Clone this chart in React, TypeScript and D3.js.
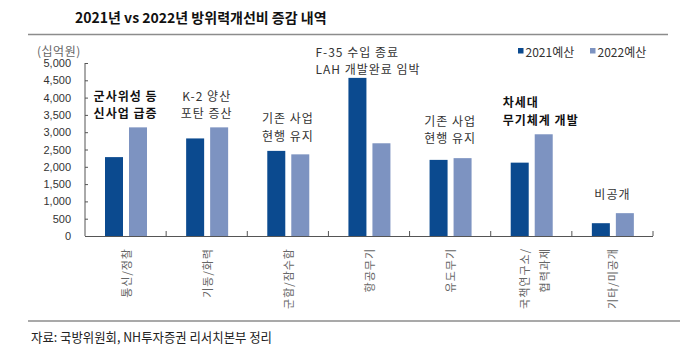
import React, {useEffect, useRef} from 'react';
import * as d3 from 'd3';

const categories = ['통신/정찰', '기동/화력', '군함/잠수함', '항공무기', '유도무기', '국책연구소/\n협력과제', '기타/미공개'];
const seriesNames = ['2021예산', '2022예산'];
const values2021 = [2280, 2820, 2460, 4570, 2200, 2120, 370];
const values2022 = [3140, 3140, 2360, 2680, 2250, 2940, 660];
const yTicks = [0, 500, 1000, 1500, 2000, 2500, 3000, 3500, 4000, 4500, 5000];

// annotations: category index, text lines, bold, y of first line (data units)
const notes = [
    {cat: 0, lines: ['군사위성 등', '신사업 급증'], bold: true, y: 4075},
    {cat: 1, lines: ['K-2 양산', '포탄 증산'], bold: false, y: 4075},
    {cat: 2, lines: ['기존 사업', '현행 유지'], bold: false, y: 3420},
    {cat: 3, lines: ['F-35 수입 종료', 'LAH 개발완료 임박'], bold: false, y: 5345},
    {cat: 4, lines: ['기존 사업', '현행 유지'], bold: false, y: 3350},
    {cat: 5, lines: ['차세대', '무기체계 개발'], bold: true, y: 3880},
    {cat: 6, lines: ['비공개'], bold: false, y: 1235},
];

const colors = ['#0b4a8f', '#7d93c1'];
const korFont = '"Noto Sans CJK KR", "Noto Sans", sans-serif';
const numFont = '"Liberation Sans", Arial, sans-serif';

export default function App() {
    const svgRef = useRef(null);

    useEffect(() => {
        const W = 680, H = 351;
        const left = 85, right = 653, top = 63, bottom = 236;

        const svg = d3.select(svgRef.current);
        svg.selectAll('*').remove();

        const x0 = d3.scaleBand().domain(categories).range([left, right]).padding(0);
        const x1 = d3.scaleBand().domain(seriesNames).range([20, 62]).paddingInner(0.25);
        const y = d3.scaleLinear().domain([0, 5000]).range([bottom, top]);

        // title
        svg.append('text')
            .attr('x', 75).attr('y', 17)
            .attr('dominant-baseline', 'central')
            .attr('font-family', korFont)
            .attr('font-size', '14px')
            .attr('font-weight', 'bold')
            .attr('fill', '#111')
            .text('2021년 vs 2022년 방위력개선비 증감 내역');

        svg.append('line')
            .attr('x1', 28).attr('x2', 668).attr('y1', 34.5).attr('y2', 34.5)
            .attr('stroke', '#8c8c8c').attr('stroke-width', 1.5);

        // unit
        svg.append('text')
            .attr('x', 37).attr('y', 50)
            .attr('dominant-baseline', 'central')
            .attr('font-family', korFont)
            .attr('font-size', '12px')
            .attr('letter-spacing', '0.5px')
            .attr('fill', '#666')
            .text('(십억원)');

        // y axis
        const yAxis = svg.append('g')
            .attr('transform', `translate(${left},0)`)
            .call(d3.axisRight(y).tickValues(yTicks).tickSize(3).tickFormat(''));
        yAxis.select('.domain').attr('stroke', '#555').attr('d', `M0,${top}V${bottom}`);
        yAxis.selectAll('.tick line').attr('stroke', '#555');

        svg.selectAll('.ylab')
            .data(yTicks)
            .enter()
            .append('text')
            .attr('class', 'ylab')
            .attr('x', 71)
            .attr('y', d => y(d))
            .attr('text-anchor', 'end')
            .attr('dominant-baseline', 'central')
            .attr('font-family', numFont)
            .attr('font-size', '11px')
            .attr('fill', '#333')
            .text(d => d3.format(',')(d));

        // bars
        const groups = svg.selectAll('.grp')
            .data(categories.map((c, i) => ({c, v: [values2021[i], values2022[i]]})))
            .enter()
            .append('g')
            .attr('transform', d => `translate(${x0(d.c)},0)`);

        groups.selectAll('rect')
            .data(d => d.v.map((v, j) => ({s: seriesNames[j], v, j})))
            .enter()
            .append('rect')
            .attr('x', d => x1(d.s))
            .attr('width', x1.bandwidth())
            .attr('y', d => y(d.v))
            .attr('height', d => y(0) - y(d.v))
            .attr('fill', d => colors[d.j]);

        // x axis
        svg.append('line')
            .attr('x1', left).attr('x2', right).attr('y1', bottom + 0.5).attr('y2', bottom + 0.5)
            .attr('stroke', '#555');
        categories.forEach(c => {
            const xx = x0(c) + x0.bandwidth();
            svg.append('line')
                .attr('x1', xx).attr('x2', xx).attr('y1', bottom - 5).attr('y2', bottom)
                .attr('stroke', '#555');
        });

        // category labels, rotated
        categories.forEach(c => {
            const lines = c.split('\n');
            const cx = x0(c) + x0.bandwidth() / 2 + (lines.length > 1 ? 2.5 : 0);
            lines.forEach((ln, k) => {
                const xx = cx + (k - (lines.length - 1) / 2) * 20;
                svg.append('text')
                    .attr('transform', `translate(${xx},248) rotate(-90)`)
                    .attr('text-anchor', 'end')
                    .attr('dominant-baseline', 'central')
                    .attr('font-family', korFont)
                    .attr('font-size', '11px')
                    .attr('letter-spacing', '1px')
                    .attr('fill', '#666')
                    .text(ln);
            });
        });

        // annotations
        notes.forEach(n => {
            const c = categories[n.cat];
            const cx = x0(c) + x0.bandwidth() / 2;
            const leftAligned = n.cat === 3 || n.cat === 5;
            const tx = n.cat === 3 ? x0(c) - 13 : n.cat === 5 ? x0(c) + 12 : cx;
            n.lines.forEach((ln, k) => {
                svg.append('text')
                    .attr('x', tx)
                    .attr('y', y(n.y) + k * 17.5)
                    .attr('text-anchor', leftAligned ? 'start' : 'middle')
                    .attr('dominant-baseline', 'central')
                    .attr('font-family', korFont)
                    .attr('font-size', '12px')
                    .attr('letter-spacing', '1px')
                    .attr('font-weight', n.bold ? 'bold' : 'normal')
                    .attr('fill', n.bold ? '#111' : '#333')
                    .text(ln);
            });
        });

        // legend
        const lx = [518, 590];
        seriesNames.forEach((s, i) => {
            svg.append('rect')
                .attr('x', lx[i]).attr('y', 48).attr('width', 5.5).attr('height', 5.5)
                .attr('fill', colors[i]);
            svg.append('text')
                .attr('x', lx[i] + 7.5).attr('y', 51)
                .attr('dominant-baseline', 'central')
                .attr('font-family', korFont)
                .attr('font-size', '12px')
                .attr('fill', '#333')
                .text(s);
        });

        // source
        svg.append('line')
            .attr('x1', 28).attr('x2', 680).attr('y1', 321).attr('y2', 321)
            .attr('stroke', '#8c8c8c').attr('stroke-width', 1.5);
        svg.append('text')
            .attr('x', 31).attr('y', 336)
            .attr('dominant-baseline', 'central')
            .attr('font-family', korFont)
            .attr('font-size', '13px')
            .attr('textLength', 241)
            .attr('lengthAdjust', 'spacingAndGlyphs')
            .attr('fill', '#222')
            .text('자료: 국방위원회, NH투자증권 리서치본부 정리');

        svg.attr('width', W).attr('height', H);
    }, []);

    return (
        <svg ref={svgRef} width={680} height={351}
             style={{position: 'absolute', left: 0, top: 0, background: '#fff'}}></svg>
    );
}
